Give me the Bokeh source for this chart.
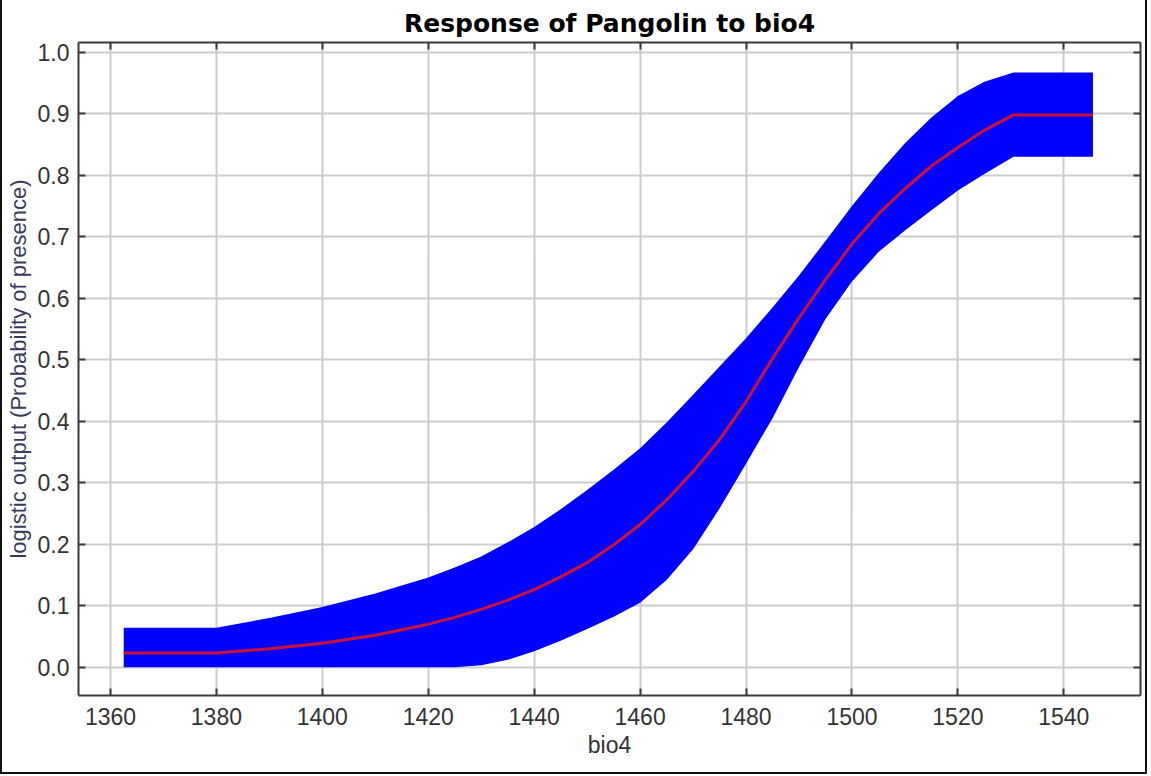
from bokeh.plotting import figure
from bokeh.models import Range1d, LinearAxis, FixedTicker, NumeralTickFormatter, ColumnDataSource
from bokeh.embed import file_html
from bokeh.resources import INLINE

# ---- data ----
bio4 = [1362.5, 1380, 1390, 1400, 1410, 1420, 1425, 1430, 1435, 1440, 1445, 1450, 1455, 1460, 1465, 1470, 1475,
        1480, 1485, 1490, 1495, 1500, 1505, 1510, 1515, 1520, 1525, 1530.5, 1545.5]
mean = [0.023, 0.023, 0.030, 0.039, 0.052, 0.070, 0.081, 0.094, 0.109, 0.126, 0.147, 0.170, 0.199, 0.232, 0.272, 0.318, 0.370,
        0.432, 0.502, 0.568, 0.630, 0.688, 0.737, 0.778, 0.815, 0.845, 0.873, 0.898, 0.898]
upper = [0.064, 0.064, 0.080, 0.098, 0.120, 0.146, 0.162, 0.180, 0.203, 0.228, 0.257, 0.288, 0.321, 0.356, 0.398, 0.443, 0.489,
         0.535, 0.585, 0.637, 0.693, 0.750, 0.803, 0.852, 0.894, 0.929, 0.952, 0.967, 0.967]
lower = [0.0, 0.0, 0.0, 0.0, 0.0, 0.0, 0.0, 0.003, 0.012, 0.026, 0.043, 0.062, 0.082, 0.105, 0.142, 0.192, 0.258,
         0.331, 0.405, 0.488, 0.566, 0.627, 0.675, 0.710, 0.743, 0.775, 0.802, 0.830, 0.830]

x_ticks = [1360, 1380, 1400, 1420, 1440, 1460, 1480, 1500, 1520, 1540]
y_ticks = [0.0, 0.1, 0.2, 0.3, 0.4, 0.5, 0.6, 0.7, 0.8, 0.9, 1.0]

title_text = "Response of Pangolin to bio4"
x_label = "bio4"
y_label = "logistic output (Probability of presence)"

src = ColumnDataSource(dict(x=bio4, mean=mean, upper=upper, lower=lower))

p = figure(width=1147, height=774, output_backend="svg", toolbar_location=None,
           x_range=Range1d(1353.96, 1554.48), y_range=Range1d(-0.046, 1.0158),
           min_border_left=76, min_border_right=9, min_border_top=42, min_border_bottom=79,
           title=title_text)

p.styles = {"border-left": "2px solid #111111",
            "border-right": "2px solid #111111",
            "border-bottom": "2px solid #111111"}

p.background_fill_color = "white"
p.border_fill_color = "white"
p.outline_line_color = None

p.title.text_font = "DejaVu Sans"
p.title.text_font_style = "bold"
p.title.text_font_size = "25px"
p.title.text_color = "black"
p.title.align = "center"
p.title.standoff = 9

p.add_layout(LinearAxis(), "above")
p.add_layout(LinearAxis(), "right")

AX = "#3a3a3a"
for ax in p.axis:
    ax.axis_line_color = AX
    ax.axis_line_width = 2
    ax.major_tick_in = 7
    ax.major_tick_out = 0
    ax.major_tick_line_color = AX
    ax.major_tick_line_width = 2
    ax.minor_tick_line_color = None
    ax.major_label_text_font = "Liberation Sans"
    ax.major_label_text_font_size = "23px"
    ax.major_label_text_color = "#333333"
    ax.axis_label_text_font = "Liberation Sans"
    ax.axis_label_text_font_style = "normal"

for ax in p.xaxis:
    ax.ticker = FixedTicker(ticks=x_ticks)
for ax in p.yaxis:
    ax.ticker = FixedTicker(ticks=y_ticks)
    ax.formatter = NumeralTickFormatter(format="0.0")

below = p.below[0]
left = p.left[0]
above = p.above[-1]
right = p.right[0]

below.major_label_standoff = 12
below.axis_label = x_label
below.axis_label_text_font_size = "23px"
below.axis_label_text_color = "#333333"
below.axis_label_standoff = 4

left.major_label_standoff = 9
left.axis_label = y_label
left.axis_label_text_font_size = "22px"
left.axis_label_text_color = "#3a3a5c"
left.axis_label_standoff = 4

for ax in (above, right):
    ax.major_label_text_font_size = "0px"
    ax.major_label_standoff = 0
    ax.major_label_text_alpha = 0

p.xgrid.ticker = FixedTicker(ticks=x_ticks)
p.ygrid.ticker = FixedTicker(ticks=y_ticks)
p.grid.grid_line_color = "#cccccc"
p.grid.grid_line_width = 2

p.varea(x="x", y1="lower", y2="upper", source=src, fill_color="#0000ff", fill_alpha=1.0)
p.line(x="x", y="mean", source=src, line_color="#cc1036", line_width=3)

open("out.html", "w").write(file_html(p, INLINE))
